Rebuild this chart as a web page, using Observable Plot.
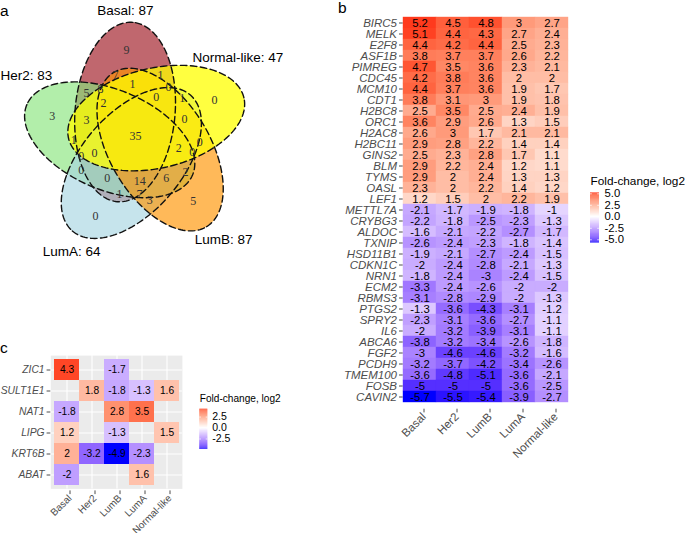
<!DOCTYPE html>
<html><head><meta charset="utf-8">
<script src="https://cdn.jsdelivr.net/npm/d3@7"></script>
<script src="https://cdn.jsdelivr.net/npm/@observablehq/plot@0.6"></script>
<style>
body{margin:0;background:#fff;}
#root{position:relative;width:685px;height:533px;overflow:hidden;font-family:"Liberation Sans",Arimo,Arial,sans-serif;background:#fff;}
</style></head><body><div id="root"></div>
<script>
// ---------- DATA ----------
const subtypes = ["Basal","Her2","LumB","LumA","Normal-like"];

const genesB = ["BIRC5","MELK","E2F8","ASF1B","PIMREG","CDC45","MCM10","CDT1","H2BC8","ORC1","H2AC8","H2BC11","GINS2","BLM","TYMS","OASL","LEF1","METTL7A","CRYBG3","ALDOC","TXNIP","HSD11B1","CDKN1C","NRN1","ECM2","RBMS3","PTGS2","SPRY2","IL6","ABCA6","FGF2","PCDH9","TMEM100","FOSB","CAVIN2"];
const bBasal  = [5.2,5.1,4.4,3.8,4.7,4.2,4.4,3.8,2.5,3.6,2.6,2.9,2.5,2.9,2.9,2.3,1.2,-2.1,-2.2,-1.6,-2.6,-1.9,-2,-1.8,-3.3,-3.1,-1.3,-2.3,-2,-3.8,-3,-3.2,-3.6,-5,-5.7];
const bHer2   = [4.5,4.4,4.2,3.7,3.5,3.8,3.7,3.1,3.5,2.9,3,2.8,2.3,2.2,2,2,1.5,-1.7,-1.8,-2.1,-2.4,-2.1,-2.4,-2.4,-2.4,-2.8,-3.6,-3.1,-3.2,-3.2,-4.6,-3.7,-4.8,-5,-5.5];
const bLumB   = [4.8,4.3,4.4,3.7,3.6,3.6,3.6,3,2.5,2.6,1.7,2.2,2.8,2.4,2.4,2.2,2,-1.9,-2.5,-2.2,-2.3,-2.7,-2.8,-3,-2.6,-2.9,-4.3,-3.6,-3.9,-3.4,-4.6,-4.2,-5.1,-5,-5.4];
const bLumA   = [3,2.7,2.5,2.6,2.3,2,1.9,1.9,2.4,1.3,2.1,1.4,1.7,1.2,1.3,1.4,2.2,-1.8,-2.3,-2.7,-1.8,-2.4,-2.1,-2.4,-2,-2,-3.1,-2.7,-3.1,-2.6,-3.2,-3.4,-3.6,-3.6,-3.9];
const bNormal = [2.7,2.4,2.3,2.2,2.1,2,1.7,1.8,1.9,1.5,2.1,1.4,1.1,1.1,1.3,1.2,1.9,-1,-1.3,-1.7,-1.4,-1.5,-1.3,-1.5,-2,-1.3,-1.2,-1.1,-1.1,-1.8,-1.6,-2.6,-2.1,-2.5,-2.7];

const genesC  = ["ZIC1","SULT1E1","NAT1","LIPG","KRT6B","ABAT"];
const cBasal  = [4.3,null,-1.8,1.2,2,-2];
const cHer2   = [null,1.8,null,null,-3.2,null];
const cLumB   = [-1.7,-1.8,2.8,-1.3,-4.9,null];
const cLumA   = [null,-1.3,3.5,null,-2.3,1.6];
const cNormal = [null,1.6,null,1.5,null,null];

const legendTitle = "Fold-change, log2";
const breaksB = [5,2.5,0,-2.5,-5];
const breaksC = [2.5,0,-2.5];

const vennSets   = ["Basal","Her2","LumA","LumB","Normal-like"];
const vennTotals = [87,83,64,87,47];
const regionCounts = [9,3,0,5,0,35,7,1,5,8,1,0,1,2,0,3,0,1,0,2,0,0,0,0,0,14,6,2,1,7,3];

// ---------- LAYOUT / STYLE ----------
const regionX = [126,51.7,214,192.7,95,135,115,160,86,100,132,168,181.7,103,155.7,86,184,73.3,199.3,178.3,80.7,94,191.7,80.7,106.7,139.3,165.7,185,119,139,149.3];
const regionY = [50,116,100,201,215.7,136,75,75,92.7,89,84,86.7,98,102.7,96.7,120,119,140,141.7,147.3,156,153,151.7,169.3,177.3,181,177.3,171.7,194,193.5,199.3];
const catX = [96.7,0,42.3,194.3,192];
const catY = [10,75,251,239,57];
const vennFills = ["#9E1520","#89E57C","#A7D5E2","#FF9300","#FFFF00"];
const vennOpac  = [0.65,0.65,0.65,0.65,0.75];
const V = {cx:136, cy:136, d:27, beta0:43, theta0:13, A:90, B:50};

const SANS = '"Liberation Sans",Arimo,Arial,sans-serif';
const root = document.getElementById("root");
function place(node, left, top){node.style.position="absolute";node.style.left=left+"px";node.style.top=top+"px";root.appendChild(node);}
const colorScale = m => ({type:"linear", domain:[-m,0,m], range:["blue","white","red"], interpolate:"lab"});
const baseStyle = {fontFamily:SANS, background:"none", overflow:"visible", color:"#4d4d4d"};

// ---------- VENN (a) ----------
const ellipses = vennSets.map((name,i)=>{
  const k=(i+1)%5;
  const be=(V.beta0+72*k)*Math.PI/180, th=(V.theta0+72*k)*Math.PI/180;
  const cx=V.cx+V.d*Math.cos(be), cy=V.cy-V.d*Math.sin(be);
  return d3.range(0,361,2).map(deg=>{const t=deg*Math.PI/180;
    return {set:name,
      x: cx+V.A*Math.cos(t)*Math.cos(th)-V.B*Math.sin(t)*Math.sin(th),
      y: cy-(V.A*Math.cos(t)*Math.sin(th)+V.B*Math.sin(t)*Math.cos(th))};});
});
const regions = regionCounts.map((c,i)=>({c, x:regionX[i], y:regionY[i]}));
const cats = vennSets.map((s,i)=>({t:`${s}: ${vennTotals[i]}`, x:catX[i], y:catY[i]}));
const venn = Plot.plot({
  width:330, height:300, margin:0,
  x:{domain:[0,330], range:[0,330], axis:null},
  y:{domain:[0,300], range:[0,300], axis:null},
  style:{...baseStyle, color:"black"},
  marks:[
    ...ellipses.map((pts,i)=>Plot.line(pts,{x:"x",y:"y",fill:vennFills[i],fillOpacity:vennOpac[i],stroke:"none"})),
    Plot.line(ellipses.flat(),{x:"x",y:"y",z:"set",stroke:"#111",strokeWidth:1.4,strokeDasharray:"6.5,3.5"}),
    Plot.text(regions,{x:"x",y:"y",text:d=>String(d.c),fontFamily:'"Liberation Serif","DejaVu Serif",serif',fontSize:12,fill:"#333"}),
    Plot.text(cats,{x:"x",y:"y",text:"t",textAnchor:"start",fontSize:13.5,fill:"black"})
  ]
});
place(venn,0,0);

// ---------- HEATMAP (b) ----------
const colsB=[bBasal,bHer2,bLumB,bLumA,bNormal];
const cellsB=[];
genesB.forEach((g,r)=>subtypes.forEach((s,c)=>cellsB.push({gene:g,subtype:s,value:colsB[c][r]})));
const heatB = Plot.plot({
  width:240, height:470, marginLeft:72.7, marginRight:2.3, marginTop:14, marginBottom:64.3,
  x:{domain:subtypes, padding:0},
  y:{domain:genesB, padding:0},
  color:colorScale(5.7),
  style:baseStyle,
  marks:[
    Plot.cell(cellsB,{x:"subtype",y:"gene",fill:"value",stroke:"value",strokeWidth:0.4,inset:0}),
    Plot.text(cellsB,{x:"subtype",y:"gene",text:d=>String(d.value),fill:"black",fontSize:11.3}),
    Plot.axisY({tickSize:3.7,tickPadding:2.5,fontSize:11.5,fontStyle:"italic",label:null}),
    Plot.axisX({tickSize:3.7,tickPadding:2,tickRotate:-45,fontSize:11.5,label:null,dx:4,dy:3})
  ]
});
place(heatB,330,0);

// ---------- LEGEND helper ----------
function legend(m, lo, hi, breaks, o){
  const n=160;
  const slices=d3.range(n).map(i=>({y1:lo+(hi-lo)*i/n, y2:lo+(hi-lo)*(i+1.3)/n, v:lo+(hi-lo)*(i+0.5)/n}));
  return Plot.plot({
    width:o.w, height:o.h, margin:0,
    x:{type:"linear",domain:[0,o.w],range:[0,o.w],axis:null},
    y:{type:"linear",domain:[lo,hi],range:[o.yBot,o.yTop],axis:null},
    color:colorScale(m),
    style:{...baseStyle,color:"black"},
    marks:[
      Plot.rect(slices,{x1:o.barX,x2:o.barX+o.barW,y1:"y1",y2:d=>Math.min(d.y2,hi),fill:"v"}),
      Plot.ruleY(breaks,{x1:o.barX,x2:o.barX+o.barW/5,stroke:"white",strokeWidth:0.7}),
      Plot.ruleY(breaks,{x1:o.barX+o.barW*4/5,x2:o.barX+o.barW,stroke:"white",strokeWidth:0.7}),
      Plot.text(breaks,{x:o.labX,y:d=>d,text:d=>d.toFixed(1),textAnchor:"start",fontSize:o.labSize,fill:"black"}),
      Plot.text([legendTitle],{frameAnchor:"top-left",lineAnchor:"middle",dx:o.barX,dy:o.titleY,textAnchor:"start",fontSize:o.titleSize,fill:"black"})
    ]
  });
}
place(legend(5.7,-5.7,5.2,breaksB,{w:100,h:80,barX:5,barW:9,yTop:22.4,yBot:72.5,labX:19,labSize:11.3,titleY:10.8,titleSize:11.8}),585,170);

// ---------- HEATMAP (c) ----------
const colsC=[cBasal,cHer2,cLumB,cLumA,cNormal];
const cellsC=[];
genesC.forEach((g,r)=>subtypes.forEach((s,c)=>{const v=colsC[c][r]; if(v!==null) cellsC.push({gene:g,subtype:s,value:v});}));
const heatC = Plot.plot({
  width:190, height:203, marginLeft:50.3, marginRight:8.1, marginTop:25.1, marginBottom:44.6,
  x:{domain:subtypes, paddingInner:0, paddingOuter:0.1},
  y:{domain:genesC, paddingInner:0, paddingOuter:0.1},
  color:colorScale(4.9),
  style:baseStyle,
  marks:[
    Plot.frame({fill:"#EBEBEB",stroke:"none"}),
    Plot.gridX({stroke:"white",strokeOpacity:1,strokeWidth:1.1}),
    Plot.gridY({stroke:"white",strokeOpacity:1,strokeWidth:1.1}),
    Plot.cell(cellsC,{x:"subtype",y:"gene",fill:"value",inset:0}),
    Plot.text(cellsC,{x:"subtype",y:"gene",text:d=>String(d.value),fill:"black",fontSize:10.2}),
    Plot.axisY({tickSize:3.7,tickPadding:2.5,fontSize:10.3,fontStyle:"italic",label:null}),
    Plot.axisX({tickSize:3.7,tickPadding:2,tickRotate:-45,fontSize:10,label:null,dx:3,dy:2})
  ]
});
place(heatC,0,330);
place(legend(4.9,-4.9,4.3,breaksC,{w:120,h:70,barX:4.3,barW:8,yTop:23.7,yBot:64,labX:16.7,labSize:10.5,titleY:13,titleSize:10.1}),195,385);

// ---------- panel letters ----------
const ov=d3.create("svg").attr("width",685).attr("height",533).style("pointer-events","none");
[["a",0,16],["b",338,13],["c",0,353]].forEach(([t,x,y])=>ov.append("text").attr("x",x).attr("y",y).attr("font-family",SANS).attr("font-size",15.5).attr("fill","black").text(t));
place(ov.node(),0,0);
</script></body></html>
